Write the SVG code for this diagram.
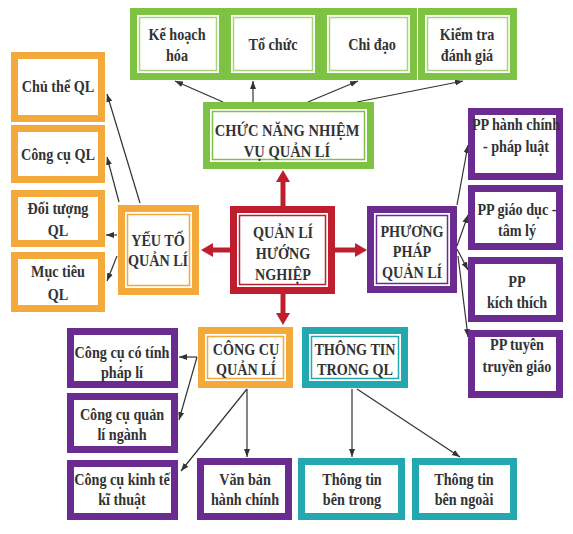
<svg xmlns="http://www.w3.org/2000/svg" width="573" height="534" viewBox="0 0 573 534">
<style>
  .bg{fill:#ffffff}
  .g{fill:#fff;stroke:#7DC242;stroke-width:7}
  .gi{fill:none;stroke:#A6D576;stroke-width:1.5}
  .gh{fill:none;stroke:#7DC242;stroke-width:1.5}
  .o{fill:#fff;stroke:#F4A93B;stroke-width:7}
  .oi{fill:none;stroke:#F4A93B;stroke-width:1.5}
  .r{fill:#fff;stroke:#BE1E2D;stroke-width:7}
  .ri{fill:none;stroke:#BE1E2D;stroke-width:1.5}
  .p{fill:#fff;stroke:#6B2C91;stroke-width:7}
  .pi{fill:none;stroke:#6B2C91;stroke-width:1.5}
  .c{fill:#fff;stroke:#22A8AE;stroke-width:7}
  .ci{fill:none;stroke:#22A8AE;stroke-width:1.5}
  text{font-family:"Liberation Serif","Times New Roman",serif;font-weight:bold;font-size:17.5px;fill:#333;text-anchor:middle}
  .ln{stroke:#333;stroke-width:1.2;fill:none;marker-end:url(#ah)}
  .rl{stroke:#BE1E2D;stroke-width:5;fill:none;marker-end:url(#rh)}
</style>
<defs>
  <marker id="ah" markerUnits="userSpaceOnUse" viewBox="0 0 8 8" markerWidth="8" markerHeight="8" refX="8" refY="4" orient="auto">
    <path d="M0,1 L8,4 L0,7 z" fill="#333"/>
  </marker>
  <marker id="rh" markerUnits="userSpaceOnUse" viewBox="0 0 12 14" markerWidth="12" markerHeight="14" refX="0" refY="7" orient="auto">
    <path d="M0,0 L12,7 L0,14 z" fill="#BE1E2D"/>
  </marker>
</defs>
<rect class="bg" x="0" y="0" width="573" height="534"/>

<g id="connectors">
  <line class="ln" x1="223" y1="102" x2="175" y2="81"/>
  <line class="ln" x1="253" y1="102" x2="253" y2="81"/>
  <line class="ln" x1="308" y1="102" x2="358" y2="81"/>
  <line class="ln" x1="357" y1="102" x2="463" y2="81"/>
  <line class="ln" x1="140" y1="203" x2="107" y2="94"/>
  <line class="ln" x1="119" y1="202" x2="107" y2="157"/>
  <line class="ln" x1="117" y1="235" x2="106" y2="235"/>
  <line class="ln" x1="117" y1="256" x2="107" y2="281"/>
  <line class="ln" x1="457" y1="205" x2="468" y2="145"/>
  <line class="ln" x1="457" y1="246" x2="468" y2="215"/>
  <line class="ln" x1="457" y1="249" x2="468" y2="270"/>
  <line class="ln" x1="458" y1="256" x2="468" y2="337"/>
  <line class="ln" x1="197" y1="357" x2="179" y2="357"/>
  <line class="ln" x1="197" y1="357" x2="179" y2="420"/>
  <line class="ln" x1="247" y1="389" x2="181" y2="471"/>
  <line class="ln" x1="247" y1="389" x2="247" y2="457"/>
  <line class="ln" x1="352" y1="389" x2="352" y2="457"/>
  <line class="ln" x1="357" y1="389" x2="460" y2="457"/>
  <line class="rl" x1="283" y1="206" x2="283" y2="182"/>
  <line class="rl" x1="230" y1="250" x2="213" y2="250"/>
  <line class="rl" x1="335" y1="250" x2="355" y2="250"/>
  <line class="rl" x1="283" y1="294" x2="283" y2="313"/>
</g>

<g id="ke-hoach-hoa">
  <rect class="g" x="133.5" y="11.5" width="89" height="65"/>
  <rect class="gi" x="139.5" y="17.5" width="77" height="53"/>
  <text transform="translate(177 40) scale(0.81 1)">Kế hoạch</text>
  <text transform="translate(177 61) scale(0.81 1)">hóa</text>
</g>
<g id="to-chuc">
  <rect class="g" x="227.5" y="11.5" width="91" height="65"/>
  <rect class="gi" x="233.5" y="17.5" width="79" height="53"/>
  <text transform="translate(273 50) scale(0.81 1)">Tổ chức</text>
</g>
<g id="chi-dao">
  <rect class="g" x="323.5" y="11.5" width="90" height="65"/>
  <rect class="gi" x="329.5" y="17.5" width="78" height="53"/>
  <text transform="translate(372 50) scale(0.81 1)">Chi đạo</text>
</g>
<g id="kiem-tra">
  <rect class="g" x="421.5" y="11.5" width="92" height="65"/>
  <rect class="gi" x="427.5" y="17.5" width="80" height="53"/>
  <text transform="translate(467 40) scale(0.81 1)">Kiểm tra</text>
  <text transform="translate(467 61) scale(0.81 1)">đánh giá</text>
</g>

<g id="chuc-nang">
  <rect class="g" x="206.5" y="105.5" width="164" height="60"/>
  <rect class="gh" x="212.5" y="111.5" width="152" height="48"/>
  <text transform="translate(287 136) scale(0.83 1)">CHỨC NĂNG NHIỆM</text>
  <text transform="translate(287 157) scale(0.83 1)">VỤ QUẢN LÍ</text>
</g>

<g id="chu-the">
  <rect class="o" x="14.5" y="55.5" width="87" height="63"/>
  <text transform="translate(58 92) scale(0.81 1)">Chủ thể QL</text>
</g>
<g id="cong-cu-ql">
  <rect class="o" x="14.5" y="128.5" width="87" height="51"/>
  <text transform="translate(58 160) scale(0.81 1)">Công cụ QL</text>
</g>
<g id="doi-tuong">
  <rect class="o" x="14.5" y="193.5" width="87" height="50"/>
  <text transform="translate(58 214) scale(0.81 1)">Đối tượng</text>
  <text transform="translate(58 236) scale(0.81 1)">QL</text>
</g>
<g id="muc-tieu">
  <rect class="o" x="14.5" y="255.5" width="87" height="53"/>
  <text transform="translate(58 277) scale(0.81 1)">Mục tiêu</text>
  <text transform="translate(58 300) scale(0.81 1)">QL</text>
</g>

<g id="yeu-to">
  <rect class="o" x="121.5" y="208.5" width="74" height="83"/>
  <rect class="oi" x="127.5" y="214.5" width="62" height="71"/>
  <text transform="translate(158 246) scale(0.81 1)">YẾU TỐ</text>
  <text transform="translate(158 266) scale(0.81 1)">QUẢN LÍ</text>
</g>

<g id="quan-li-huong-nghiep">
  <rect class="r" x="233.5" y="209.5" width="98" height="81"/>
  <rect class="ri" x="239.5" y="215.5" width="86" height="69"/>
  <text transform="translate(283 238) scale(0.81 1)">QUẢN LÍ</text>
  <text transform="translate(283 259) scale(0.81 1)">HƯỚNG</text>
  <text transform="translate(283 280) scale(0.81 1)">NGHIỆP</text>
</g>

<g id="phuong-phap">
  <rect class="p" x="370.5" y="209.5" width="83" height="80"/>
  <rect class="pi" x="376.5" y="215.5" width="71" height="68"/>
  <text transform="translate(412 237) scale(0.81 1)">PHƯƠNG</text>
  <text transform="translate(412 257) scale(0.81 1)">PHÁP</text>
  <text transform="translate(412 278) scale(0.81 1)">QUẢN LÍ</text>
</g>

<g id="pp-hanh-chinh">
  <rect class="p" x="471.5" y="111.5" width="88" height="65"/>
  <text transform="translate(516 130) scale(0.81 1)">PP hành chính</text>
  <text transform="translate(516 152) scale(0.81 1)">- pháp luật</text>
</g>
<g id="pp-giao-duc">
  <rect class="p" x="471.5" y="188.5" width="88" height="58"/>
  <text transform="translate(517 215) scale(0.81 1)">PP giáo dục -</text>
  <text transform="translate(517 236) scale(0.81 1)">tâm lý</text>
</g>
<g id="pp-kich-thich">
  <rect class="p" x="471.5" y="260.5" width="88" height="58"/>
  <text transform="translate(517 287) scale(0.81 1)">PP</text>
  <text transform="translate(517 308) scale(0.81 1)">kích thích</text>
</g>
<g id="pp-tuyen-truyen">
  <rect class="p" x="471.5" y="333.5" width="88" height="61"/>
  <text transform="translate(517 350) scale(0.81 1)">PP tuyên</text>
  <text transform="translate(517 372) scale(0.81 1)">truyền giáo</text>
</g>

<g id="cong-cu-quan-li">
  <rect class="o" x="201.5" y="330.5" width="88" height="54"/>
  <rect class="oi" x="207.5" y="336.5" width="76" height="42"/>
  <text transform="translate(246 355) scale(0.81 1)">CÔNG CỤ</text>
  <text transform="translate(246 375) scale(0.81 1)">QUẢN LÍ</text>
</g>

<g id="thong-tin-trong-ql">
  <rect class="c" x="305.5" y="330.5" width="99" height="54"/>
  <rect class="ci" x="311.5" y="336.5" width="87" height="42"/>
  <text transform="translate(355 355) scale(0.81 1)">THÔNG TIN</text>
  <text transform="translate(355 375) scale(0.81 1)">TRONG QL</text>
</g>

<g id="cong-cu-phap-li">
  <rect class="p" x="70.5" y="331.5" width="104" height="53"/>
  <text transform="translate(122 358) scale(0.81 1)">Công cụ có tính</text>
  <text transform="translate(122 378) scale(0.81 1)">pháp lí</text>
</g>
<g id="cong-cu-nganh">
  <rect class="p" x="70.5" y="396.5" width="104" height="53"/>
  <text transform="translate(122 420) scale(0.81 1)">Công cụ quản</text>
  <text transform="translate(122 440) scale(0.81 1)">lí ngành</text>
</g>
<g id="cong-cu-kinh-te">
  <rect class="p" x="70.5" y="463.5" width="104" height="53"/>
  <text transform="translate(122 485) scale(0.81 1)">Công cụ kinh tế</text>
  <text transform="translate(122 505) scale(0.81 1)">kĩ thuật</text>
</g>
<g id="van-ban">
  <rect class="p" x="200.5" y="461.5" width="88" height="55"/>
  <text transform="translate(245 485) scale(0.81 1)">Văn bản</text>
  <text transform="translate(245 505) scale(0.81 1)">hành chính</text>
</g>
<g id="thong-tin-ben-trong">
  <rect class="c" x="301.5" y="461.5" width="100" height="55"/>
  <text transform="translate(352 485) scale(0.81 1)">Thông tin</text>
  <text transform="translate(352 505) scale(0.81 1)">bên trong</text>
</g>
<g id="thong-tin-ben-ngoai">
  <rect class="c" x="415.5" y="461.5" width="98" height="55"/>
  <text transform="translate(464 485) scale(0.81 1)">Thông tin</text>
  <text transform="translate(464 505) scale(0.81 1)">bên ngoài</text>
</g>
</svg>
